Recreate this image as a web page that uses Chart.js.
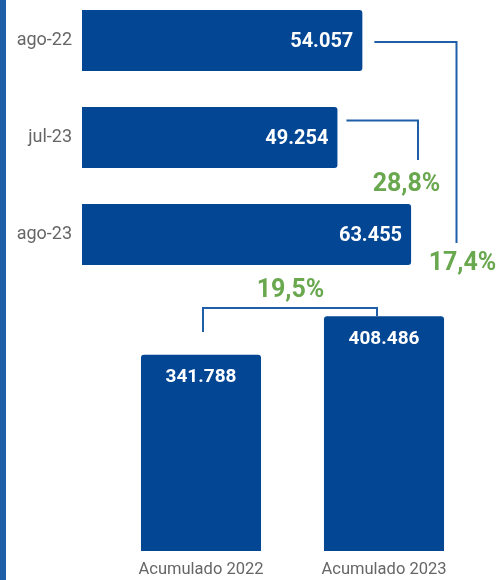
<!DOCTYPE html>
<html>
<head>
<meta charset="utf-8">
<script src="https://cdn.jsdelivr.net/npm/chart.js@4.4.1/dist/chart.umd.min.js"></script>
<style>
  html, body { margin: 0; padding: 0; background: #fff; }
  body { width: 500px; height: 580px; position: relative; overflow: hidden; }
  #stripe { position: absolute; left: 0; top: 0; width: 6px; height: 580px; background: #1f5fa8; }
  #top { position: absolute; left: 0; top: -8px; width: 500px; height: 291px; }
  #bot { position: absolute; left: 0; top: 270px; width: 500px; height: 310px; }
</style>
</head>
<body>
<div id="stripe"></div>
<canvas id="top" width="500" height="291"></canvas>
<canvas id="bot" width="500" height="310"></canvas>
<script>
// ---- data ----
const monthLabels = ["ago-22", "jul-23", "ago-23"];
const monthValues = [54057, 49254, 63455];
const accLabels = ["Acumulado 2022", "Acumulado 2023"];
const accValues = [341788, 408486];
const pctAgo = "17,4%";   // ago-23 vs ago-22
const pctJul = "28,8%";   // ago-23 vs jul-23
const pctAcc = "19,5%";   // 2023 vs 2022

const BAR = "#034694";
const LINE = "#1f5fa8";
const GREEN = "#6aa84f";
const FONT = "Roboto, 'Liberation Sans', sans-serif";

function fmt(v) { return v.toString().replace(/\B(?=(\d{3})+(?!\d))/g, "."); }

const topPlugin = {
  id: "topDeco",
  afterDatasetsDraw(chart) {
    const ctx = chart.ctx;
    const meta = chart.getDatasetMeta(0);
    const xs = chart.scales.x, ys = chart.scales.y;
    ctx.save();
    ctx.fillStyle = "#fff";
    ctx.font = "bold 20px " + FONT;
    ctx.textAlign = "right";
    ctx.textBaseline = "middle";
    meta.data.forEach((bar, i) => {
      ctx.fillText(fmt(monthValues[i]), bar.x - 9, bar.y + 1);
    });
    ctx.restore();
    const y0 = ys.getPixelForValue(0), y1 = ys.getPixelForValue(1), y2 = ys.getPixelForValue(2);
    const e0 = xs.getPixelForValue(monthValues[0]);
    const e1 = xs.getPixelForValue(monthValues[1]);
    ctx.save();
    ctx.strokeStyle = LINE;
    ctx.lineWidth = 2;
    ctx.beginPath();
    ctx.moveTo(e0 + 12, y0 + 1.5);
    ctx.lineTo(456.5, y0 + 1.5);
    ctx.lineTo(456.5, y2 + 8.5);
    ctx.stroke();
    ctx.beginPath();
    ctx.moveTo(e1 + 9, y1 - 17);
    ctx.lineTo(418, y1 - 17);
    ctx.lineTo(418, y1 + 22.5);
    ctx.stroke();
    ctx.fillStyle = GREEN;
    ctx.font = "bold 25px " + FONT;
    ctx.textAlign = "center";
    ctx.textBaseline = "alphabetic";
    ctx.fillText(pctJul, 406.5, y1 + 53.5);
    ctx.fillText(pctAgo, 462.5, y2 + 35.5);
    ctx.restore();
  }
};

const botPlugin = {
  id: "botDeco",
  afterDatasetsDraw(chart) {
    const ctx = chart.ctx;
    const meta = chart.getDatasetMeta(0);
    ctx.save();
    ctx.fillStyle = "#fff";
    ctx.font = "bold 19px " + FONT;
    ctx.textAlign = "center";
    ctx.textBaseline = "middle";
    meta.data.forEach((bar, i) => {
      ctx.fillText(fmt(accValues[i]), bar.x, bar.y + 23);
    });
    const b0 = meta.data[0], b1 = meta.data[1];
    const hy = 38;
    ctx.strokeStyle = LINE;
    ctx.lineWidth = 2;
    ctx.beginPath();
    ctx.moveTo(b0.x + 2, 62);
    ctx.lineTo(b0.x + 2, hy);
    ctx.lineTo(b1.x - 7, hy);
    ctx.lineTo(b1.x - 7, b1.y);
    ctx.stroke();
    ctx.fillStyle = GREEN;
    ctx.font = "bold 25px " + FONT;
    ctx.textBaseline = "alphabetic";
    ctx.fillText(pctAcc, (b0.x + b1.x) / 2 - 2, 27);
    ctx.restore();
  }
};

new Chart(document.getElementById("top"), {
  type: "bar",
  data: {
    labels: monthLabels,
    datasets: [{
      data: monthValues,
      backgroundColor: BAR,
      borderRadius: 3,
      borderSkipped: "start",
      barPercentage: 0.629,
      categoryPercentage: 1
    }]
  },
  options: {
    indexAxis: "y",
    responsive: false,
    animation: false,
    events: [],
    layout: { padding: 0 },
    plugins: { legend: { display: false }, tooltip: { enabled: false } },
    scales: {
      x: { display: false, min: 0, max: 80600 },
      y: {
        grid: { display: false, drawTicks: false },
        border: { display: false },
        ticks: { color: "#666", font: { family: FONT, size: 18 }, padding: 10 },
        afterFit(s) { s.width = 82; s.paddingTop = 0; s.paddingBottom = 0; }
      }
    }
  },
  plugins: [topPlugin]
});

new Chart(document.getElementById("bot"), {
  type: "bar",
  data: {
    labels: accLabels,
    datasets: [{
      data: accValues,
      backgroundColor: BAR,
      borderRadius: 3,
      borderSkipped: "start",
      barPercentage: 0.656,
      categoryPercentage: 1
    }]
  },
  options: {
    responsive: false,
    animation: false,
    events: [],
    layout: { padding: { left: 109.5, right: 24.5, top: 0, bottom: 0 } },
    plugins: { legend: { display: false }, tooltip: { enabled: false } },
    scales: {
      y: { display: false, min: 0, max: 489200 },
      x: {
        grid: { display: false, drawTicks: false },
        border: { display: false },
        ticks: { color: "#666", font: { family: FONT, size: 16.5 }, padding: 9, maxRotation: 0 },
        afterFit(s) { s.height = 29; }
      }
    }
  },
  plugins: [botPlugin]
});
</script>
</body>
</html>
